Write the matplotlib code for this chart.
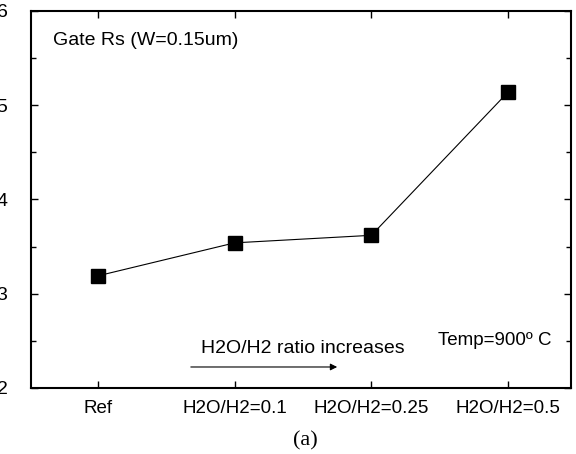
import numpy as np
import matplotlib.pyplot as plt
from matplotlib.ticker import MultipleLocator

# ------------------------------------------------------------
# Data
# ------------------------------------------------------------
categories = ['Ref', 'H2O/H2=0.1', 'H2O/H2=0.25', 'H2O/H2=0.5']
gate_rs = [3.19, 3.54, 3.62, 5.14]
y_ticks = [2, 3, 4, 5, 6]

plt.rcParams['font.family'] = ['Liberation Sans', 'DejaVu Sans']

fig = plt.figure(figsize=(5.76, 4.54), dpi=100)
ax = fig.add_axes([0.0538, 0.1454, 0.9375, 0.8304])

x = np.arange(len(categories))
ax.plot(x, gate_rs, color='black', lw=0.8, marker='s', ms=9.5,
        mfc='black', mec='black')

ax.set_xlim(-0.49, 3.46)
ax.set_ylim(2, 6)
ax.set_xticks(x)
ax.set_xticklabels(categories, fontsize=13.5)
ax.set_yticks(y_ticks)
ax.set_yticklabels([str(v) for v in y_ticks], fontsize=14)
ax.yaxis.set_minor_locator(MultipleLocator(0.5))

for s in ax.spines.values():
    s.set_linewidth(1.5)

ax.tick_params(axis='x', which='major', direction='in', top=True,
               length=5, width=1, pad=9)
ax.tick_params(axis='y', which='major', direction='in', right=True,
               length=5, width=1, pad=17)
ax.tick_params(axis='y', which='minor', direction='in', right=True,
               length=3.5, width=1)

# annotations
ax.text(0.041, 0.923, 'Gate Rs (W=0.15um)', transform=ax.transAxes,
        fontsize=14, ha='left', va='center')
ax.text(0.503, 0.106, 'H2O/H2 ratio increases', transform=ax.transAxes,
        fontsize=14, ha='center', va='center')
ax.annotate('', xy=(0.567, 0.0557), xytext=(0.296, 0.0557),
            xycoords='axes fraction',
            arrowprops=dict(arrowstyle='-|>', lw=0.8, color='black',
                            mutation_scale=10, shrinkA=0, shrinkB=0))
ax.text(0.859, 0.127, 'Temp=900º C', transform=ax.transAxes,
        fontsize=13.5, ha='center', va='center')

fig.text(0.531, 0.029, '(a)', fontsize=16, ha='center', va='center',
         family='Liberation Serif')

fig.savefig('out.png', dpi=100)
